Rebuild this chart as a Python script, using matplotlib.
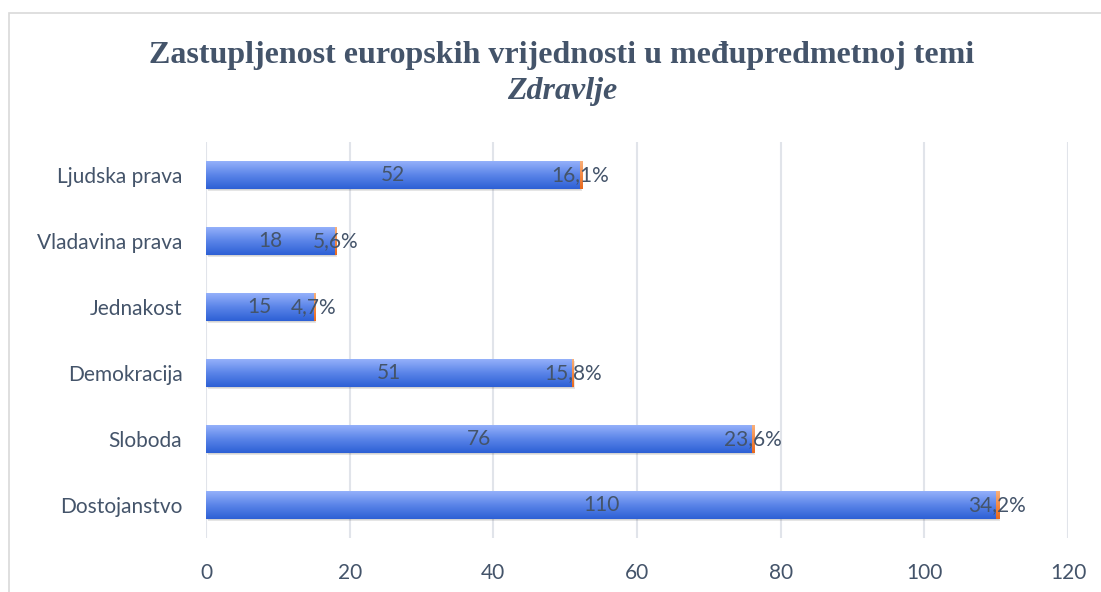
import matplotlib.pyplot as plt
import numpy as np
from matplotlib.patches import Rectangle
from matplotlib.colors import LinearSegmentedColormap

## DATA
categories = ['Dostojanstvo', 'Sloboda', 'Demokracija', 'Jednakost', 'Vladavina prava', 'Ljudska prava']
counts = [110, 76, 51, 15, 18, 52]
shares = [0.342, 0.236, 0.158, 0.047, 0.056, 0.161]
share_labels = ['34,2%', '23,6%', '15,8%', '4,7%', '5,6%', '16,1%']
xticks = [0, 20, 40, 60, 80, 100, 120]

text_col = '#44546A'
grid_col = '#E1E4EA'

fig = plt.figure(figsize=(11.01, 5.92), dpi=100)
ax = fig.add_axes([206/1101, 1 - 538/592, 862/1101, 396/592])

# chart frame
fig.patches.append(Rectangle((9/1101, -0.1), 1.2, (1 - 13/592) + 0.1, transform=fig.transFigure,
                             fill=False, edgecolor='#D9D9D9', linewidth=1.2))

ax.set_xticks(xticks)
ax.set_yticks(range(len(categories)))
ax.set_yticklabels(categories)
for s in ax.spines.values():
    s.set_visible(False)
ax.tick_params(length=0, labelsize=15, labelcolor=text_col)
ax.tick_params(axis='x', pad=18)
ax.tick_params(axis='y', pad=17)
for lab in ax.get_xticklabels() + ax.get_yticklabels():
    lab.set_fontfamily('Lato')
ax.grid(axis='x', color=grid_col, linewidth=1.5)
ax.set_axisbelow(True)

h = 0.42
grad = np.linspace(0, 1, 64).reshape(-1, 1)
blue_cmap = LinearSegmentedColormap.from_list('b', ['#2D60D5', '#5A84E8', '#94B0FA'])
orange_cmap = LinearSegmentedColormap.from_list('o', ['#E8691E', '#F48A45', '#F9B07A'])

for i, (c, p) in enumerate(zip(counts, shares)):
    # shadow
    ax.barh(i - 0.035, c + p, height=h, left=0.25, color='#000000', alpha=0.10, zorder=2)
    ax.barh(i - 0.02, c + p, height=h, left=0.1, color='#000000', alpha=0.08, zorder=2)
    b1 = ax.barh(i, c, height=h, color='none', zorder=3)[0]
    im = ax.imshow(grad, cmap=blue_cmap, aspect='auto', origin='lower',
                   extent=[0, c, i - h/2, i + h/2], zorder=3)
    im.set_clip_path(b1)
    ax.imshow(grad, cmap=orange_cmap, aspect='auto', origin='lower',
              extent=[c, c + p + 0.12, i - h/2, i + h/2], zorder=3)
    ax.text(c / 2, i, str(c), ha='center', va='center', fontsize=15,
            color=text_col, fontfamily='Lato', zorder=5)
    ax.text(c + p / 2, i, share_labels[i], ha='center', va='center', fontsize=15,
            color=text_col, fontfamily='Lato', zorder=5)

ax.set_xlim(0, 120)
ax.set_ylim(-0.5, len(categories) - 0.5)

fig.text(562/1101, 1 - 55/592, 'Zastupljenost europskih vrijednosti u međupredmetnoj temi',
         ha='center', va='center', fontsize=23, fontweight='bold',
         fontfamily='Liberation Serif', color=text_col)
fig.text(562/1101, 1 - 92/592, 'Zdravlje', ha='center', va='center', fontsize=23,
         fontweight='bold', fontstyle='italic', fontfamily='Liberation Serif', color=text_col)

fig.savefig('out.png', dpi=100)
